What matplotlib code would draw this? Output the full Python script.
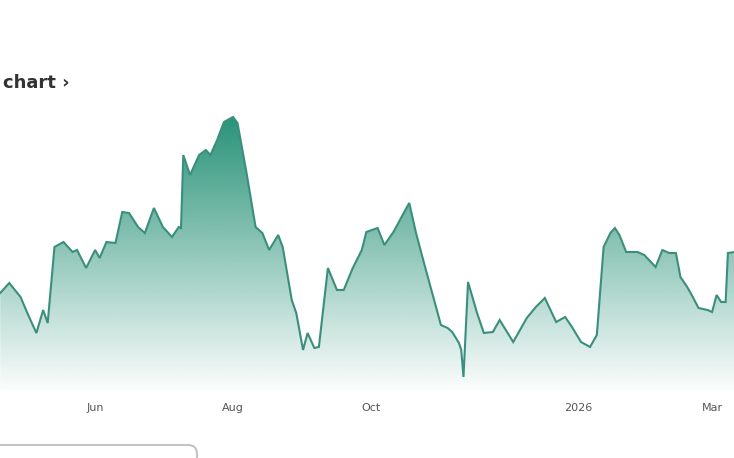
import numpy as np
import pandas as pd
import matplotlib
matplotlib.use("Agg")
import matplotlib.pyplot as plt
import matplotlib.dates as mdates
from matplotlib.patches import FancyBboxPatch
from matplotlib.colors import to_rgb

# Kursverlauf
dates = ["2025-04-20", "2025-04-24", "2025-04-29", "2025-05-02", "2025-05-06", "2025-05-09",
         "2025-05-11", "2025-05-14", "2025-05-18", "2025-05-22", "2025-05-24", "2025-05-28",
         "2025-06-01", "2025-06-03", "2025-06-06", "2025-06-10", "2025-06-13", "2025-06-16",
         "2025-06-20", "2025-06-23", "2025-06-27", "2025-07-01", "2025-07-05", "2025-07-08",
         "2025-07-09", "2025-07-10", "2025-07-13", "2025-07-17", "2025-07-20", "2025-07-22",
         "2025-07-25", "2025-07-28", "2025-08-01", "2025-08-03", "2025-08-07", "2025-08-11",
         "2025-08-14", "2025-08-17", "2025-08-21", "2025-08-23", "2025-08-27", "2025-08-29",
         "2025-09-01", "2025-09-03", "2025-09-06", "2025-09-08", "2025-09-12", "2025-09-16",
         "2025-09-19", "2025-09-23", "2025-09-27", "2025-09-29", "2025-10-04", "2025-10-07",
         "2025-10-11", "2025-10-17", "2025-10-18", "2025-10-21", "2025-10-25", "2025-10-29",
         "2025-11-01", "2025-11-04", "2025-11-06", "2025-11-09", "2025-11-10", "2025-11-11",
         "2025-11-13", "2025-11-17", "2025-11-20", "2025-11-24", "2025-11-27", "2025-12-03",
         "2025-12-09", "2025-12-13", "2025-12-17", "2025-12-22", "2025-12-26", "2025-12-29",
         "2026-01-02", "2026-01-06", "2026-01-09", "2026-01-12", "2026-01-15", "2026-01-17",
         "2026-01-19", "2026-01-22", "2026-01-27", "2026-01-30", "2026-02-04", "2026-02-07",
         "2026-02-10", "2026-02-13", "2026-02-15", "2026-02-18", "2026-02-20", "2026-02-23",
         "2026-02-27", "2026-03-01", "2026-03-03", "2026-03-05", "2026-03-07", "2026-03-08",
         "2026-03-11"]
price = [16.7, 17.7, 16.3, 14.7, 12.7, 15.0,
         13.7, 21.3, 21.8, 20.8, 21.0, 19.2,
         21.0, 20.2, 21.8, 21.7, 24.8, 24.7,
         23.3, 22.7, 25.2, 23.3, 22.3, 23.3,
         23.2, 30.5, 28.5, 30.5, 31.0, 30.5,
         32.0, 33.8, 34.3, 33.7, 28.7, 23.3,
         22.7, 21.0, 22.5, 21.3, 16.0, 14.7,
         11.0, 12.7, 11.2, 11.3, 19.2, 17.0,
         17.0, 19.2, 21.0, 22.8, 23.2, 21.5,
         22.8, 25.3, 25.7, 22.7, 19.3, 16.0,
         13.5, 13.2, 12.8, 11.7, 11.0, 8.3,
         17.8, 14.7, 12.7, 12.8, 14.0, 11.8,
         14.2, 15.3, 16.2, 13.8, 14.3, 13.3,
         11.8, 11.3, 12.5, 21.3, 22.7, 23.2,
         22.5, 20.8, 20.8, 20.5, 19.3, 21.0,
         20.7, 20.7, 18.3, 17.3, 16.5, 15.2,
         15.0, 14.8, 16.5, 15.8, 15.8, 20.7,
         20.8]

tick_dates = ["2025-06-01", "2025-08-01", "2025-10-01", "2026-01-01", "2026-03-01"]
tick_labels = ["Jun", "Aug", "Oct", "2026", "Mar"]

d = pd.to_datetime(dates)
x = mdates.date2num(d)
y = np.array(price)

teal = "#1c8c70"
line_col = "#3a8f7c"

fig = plt.figure(figsize=(7.34, 4.58), dpi=100)
ax = fig.add_axes([0, 63 / 458, 1, 395 / 458])

y0, y1 = 6.5, 46.0
ref = mdates.date2num(pd.Timestamp("2025-08-01"))
ax.set_xlim(ref - 103.1, ref + 221.7)
ax.set_ylim(y0, y1)

# Verlauf unter der Linie
poly = ax.fill_between(x, y, y0, color="none", lw=0)
rgb = to_rgb(teal)
n = 300
a = np.clip((np.linspace(y0, y1, n) - y0) / (34.5 - y0), 0, 1) * 0.95
img = np.zeros((n, 2, 4))
img[:, :, 0], img[:, :, 1], img[:, :, 2] = rgb
img[:, :, 3] = a[:, None]
xl = ax.get_xlim()
im = ax.imshow(img, extent=[xl[0], xl[1], y0, y1], origin="lower",
               aspect="auto", interpolation="bilinear", zorder=1)
path = poly.get_paths()[0]
im.set_clip_path(path, transform=ax.transData)

ax.plot(x, y, color=line_col, lw=1.5, zorder=2, solid_joinstyle="miter")

ax.set_xticks(mdates.date2num(pd.to_datetime(tick_dates)))
ax.set_xticklabels(tick_labels, fontsize=8, color="#555555")
ax.tick_params(axis="x", length=0, pad=6)
ax.set_yticks([])
for s in ax.spines.values():
    s.set_visible(False)

fig.text(3 / 734, 1 - 83 / 458, "chart \u203a", fontsize=13, fontweight="bold",
         color="#333333", va="center", ha="left")

# Button-Rand unten links
box = FancyBboxPatch((-20 / 734, -40 / 458), 217 / 734, 53 / 458,
                     boxstyle="round,pad=0,rounding_size=0.012",
                     mutation_aspect=734 / 458, transform=fig.transFigure,
                     fc="none", ec="#c4c4c4", lw=1.5, clip_on=False)
fig.patches.append(box)

fig.savefig("out.png", dpi=100)
